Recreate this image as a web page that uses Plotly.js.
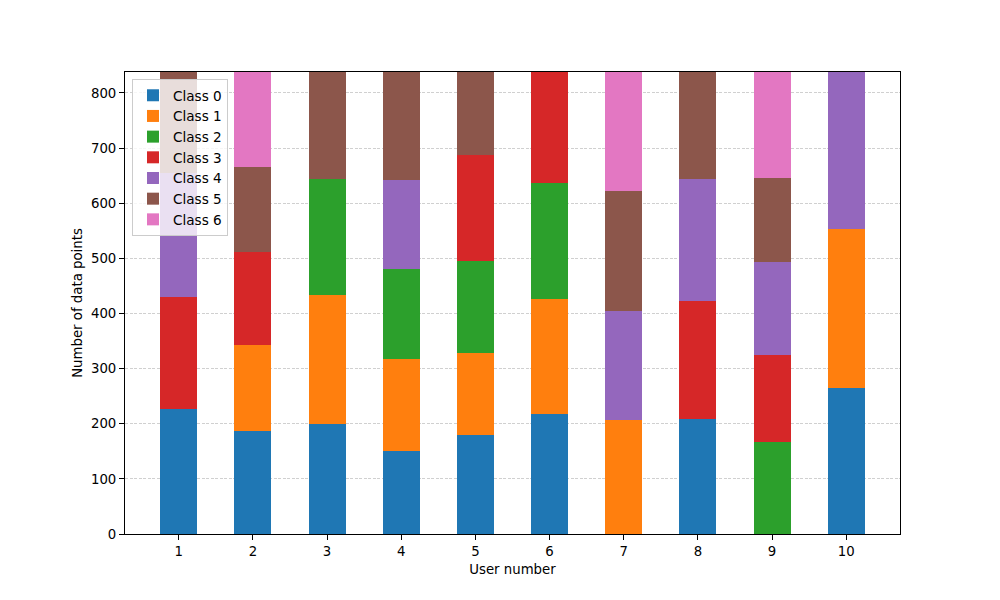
<!DOCTYPE html>
<html>
<head>
<meta charset="utf-8">
<script src="https://cdn.plot.ly/plotly-3.0.1.min.js"></script>
<style>html,body{margin:0;padding:0;background:#fff}#chart{width:1000px;height:600px}</style>
</head>
<body>
<div id="chart"></div>
<script>
const users = [1, 2, 3, 4, 5, 6, 7, 8, 9, 10];
const classNames = ["Class 0", "Class 1", "Class 2", "Class 3", "Class 4", "Class 5", "Class 6"];
const class0 = [226, 187, 200, 151, 180, 218, 0, 209, 0, 265];
const class1 = [0, 156, 234, 167, 148, 208, 207, 0, 0, 288];
const class2 = [0, 0, 210, 163, 167, 211, 0, 0, 167, 0];
const class3 = [204, 169, 0, 0, 193, 210, 0, 213, 158, 0];
const class4 = [225, 0, 0, 161, 0, 0, 198, 222, 169, 290];
const class5 = [200, 154, 200, 200, 190, 0, 217, 200, 152, 0];
const class6 = [0, 190, 0, 0, 0, 0, 220, 0, 200, 0];
const colors = ["#1f77b4", "#ff7f0e", "#2ca02c", "#d62728", "#9467bd", "#8c564b", "#e377c2"];
const series = [class0, class1, class2, class3, class4, class5, class6];

const traces = series.map((vals, i) => ({
  type: "bar",
  x: users,
  y: vals,
  name: classNames[i],
  width: 0.5,
  marker: {color: colors[i], line: {width: 0}},
  hoverinfo: "x+y+name"
}));

const font = {family: "DejaVu Sans, sans-serif", size: 13.3, color: "#000"};
const layout = {
  width: 1000, height: 600,
  barmode: "stack",
  paper_bgcolor: "#fff", plot_bgcolor: "#fff",
  margin: {l: 125, r: 100, t: 72, b: 66},
  font: font,
  showlegend: true,
  legend: {
    x: 0.009, y: 0.985, xanchor: "left", yanchor: "top",
    traceorder: "normal",
    bgcolor: "rgba(255,255,255,0.8)",
    bordercolor: "#cccccc", borderwidth: 1,
    font: {family: "DejaVu Sans, sans-serif", size: 13.6, color: "#000"},
    itemwidth: 30,
    tracegroupgap: 0
  },
  xaxis: {
    range: [0.275, 10.725],
    tickmode: "array", tickvals: users, ticktext: users.map(String),
    ticks: "outside", ticklen: 5, tickwidth: 1, tickcolor: "#000",
    showgrid: false, zeroline: false,
    showline: true, linecolor: "#000", linewidth: 1, mirror: true,
    title: {text: "User number", font: font, standoff: 6}
  },
  yaxis: {
    range: [0, 838],
    tickmode: "linear", tick0: 0, dtick: 100,
    ticks: "outside", ticklen: 5, tickwidth: 1, tickcolor: "#000",
    showgrid: true, gridcolor: "#b0b0b0", gridwidth: 0.6, griddash: "3px,1.5px",
    zeroline: false,
    showline: true, linecolor: "#000", linewidth: 1, mirror: true,
    title: {text: "Number of data points", font: font, standoff: 5}
  }
};

Plotly.newPlot("chart", traces, layout, {staticPlot: true, displayModeBar: false});
</script>
</body>
</html>
